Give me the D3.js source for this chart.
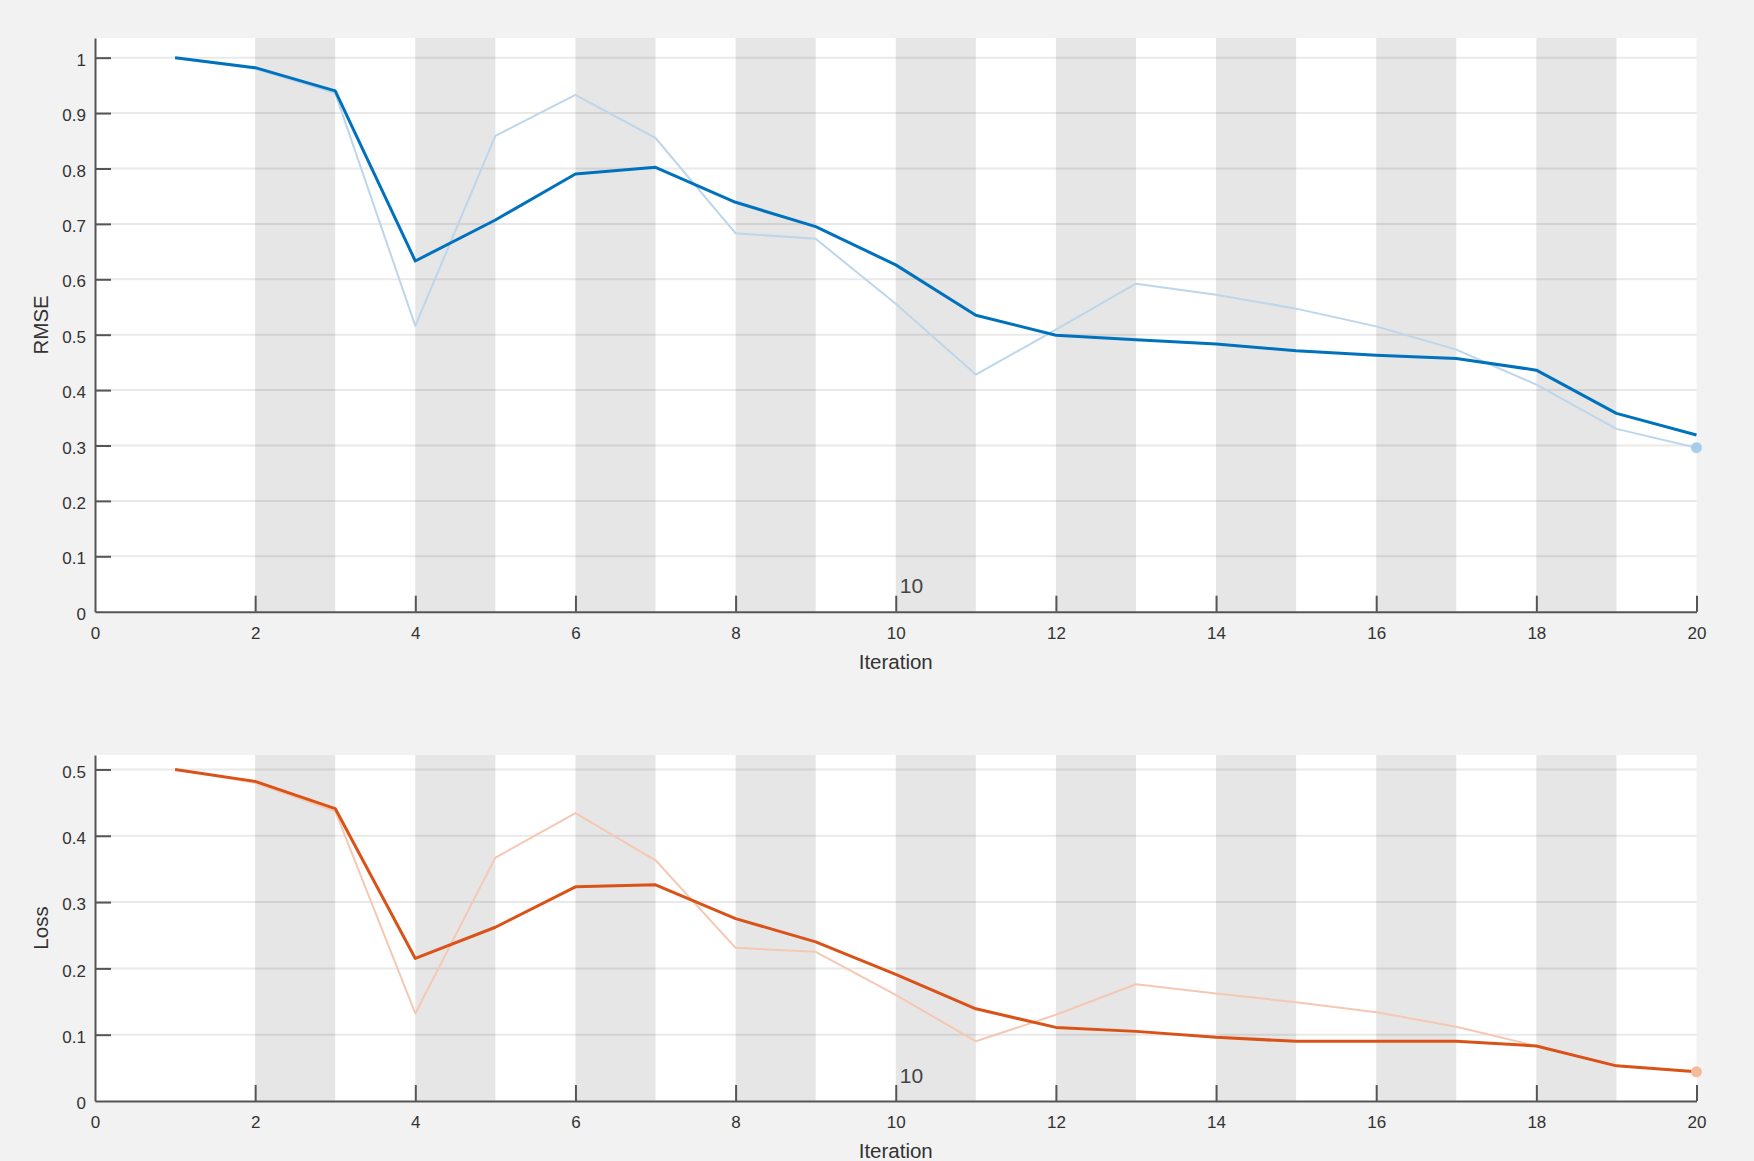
<!DOCTYPE html>
<html><head><meta charset="utf-8">
<script src="https://cdn.jsdelivr.net/npm/d3@7"></script>
<style>
html,body{margin:0;padding:0;background:#f2f2f2;}
svg{display:block;font-family:"Liberation Sans",Arial,Helvetica,sans-serif;}
</style></head>
<body>
<script>
// ---- data ----
const iterations = [1,2,3,4,5,6,7,8,9,10,11,12,13,14,15,16,17,18,19,20];
const rmseSmoothed = [1.0,0.982,0.940,0.633,0.707,0.790,0.802,0.739,0.695,0.626,0.535,0.499,0.491,0.483,0.471,0.463,0.457,0.436,0.358,0.319];
const rmseRaw      = [1.0,0.980,0.936,0.516,0.859,0.933,0.855,0.683,0.673,0.556,0.428,0.509,0.592,0.572,0.547,0.515,0.473,0.410,0.330,0.296];
const lossSmoothed = [0.500,0.482,0.441,0.215,0.262,0.323,0.326,0.275,0.240,0.191,0.139,0.111,0.105,0.096,0.090,0.090,0.090,0.083,0.053,0.044];
const lossRaw      = [0.500,0.480,0.437,0.132,0.367,0.434,0.363,0.231,0.225,0.160,0.090,0.130,0.176,0.162,0.149,0.134,0.112,0.083,0.053,0.044];
const epochBands = [[2,3],[4,5],[6,7],[8,9],[10,11],[12,13],[14,15],[16,17],[18,19]];
const xTicks = [0,2,4,6,8,10,12,14,16,18,20];
const rmseTicks = [0,0.1,0.2,0.3,0.4,0.5,0.6,0.7,0.8,0.9,1];
const lossTicks = [0,0.1,0.2,0.3,0.4,0.5];
const annotationLabel = "10";
const annotationX = 10;

const W = 1754, H = 1161;
const svg = d3.select("body").append("svg").attr("width", W).attr("height", H);
svg.append("rect").attr("width", W).attr("height", H).attr("fill", "#f2f2f2");

const textColor = "#333333";
const axisColor = "#555555";

function panel(opts){
  const {top, bottom, yMax, yTicks, yLabel, smooth, raw, dark, light, marker} = opts;
  const x = d3.scaleLinear().domain([0,20]).range([95,1696.5]);
  const y = d3.scaleLinear().domain([0,yMax]).range([bottom, top]);
  const g = svg.append("g");
  // plot area
  g.append("rect").attr("x", x(0)).attr("y", y(yMax)).attr("width", x(20)-x(0)).attr("height", y(0)-y(yMax)).attr("fill", "#ffffff");
  // epoch bands
  g.selectAll("rect.band").data(epochBands).join("rect").attr("class","band")
    .attr("x", d=>x(d[0])).attr("width", d=>x(d[1])-x(d[0]))
    .attr("y", y(yMax)).attr("height", y(0)-y(yMax)).attr("fill", "#e6e6e6");
  // grid
  g.selectAll("line.grid").data(yTicks.filter(t=>t>0)).join("line").attr("class","grid")
    .attr("x1", x(0)).attr("x2", x(20)).attr("y1", d=>y(d)).attr("y2", d=>y(d))
    .attr("stroke", "rgba(38,38,38,0.10)").attr("stroke-width", 2);
  // lines
  const line = d3.line().x((d,i)=>x(iterations[i])).y(d=>y(d));
  g.append("path").datum(raw).attr("d", line).attr("fill","none").attr("stroke", light).attr("stroke-width", 2).attr("stroke-linejoin","round");
  g.append("path").datum(smooth).attr("d", line).attr("fill","none").attr("stroke", dark).attr("stroke-width", 3).attr("stroke-linejoin","round");
  const li = iterations.length-1;
  g.append("circle").attr("cx", x(iterations[li])).attr("cy", y(raw[li])).attr("r", 5.5).attr("fill", marker);
  // axes
  const xAxis = d3.axisBottom(x).tickValues(xTicks).tickSize(-16).tickSizeOuter(0).tickPadding(15).tickFormat(d3.format("d"));
  const gx = g.append("g").attr("transform", `translate(0,${y(0)})`).call(xAxis);
  const yAxis = d3.axisLeft(y).tickValues(yTicks).tickSize(-16).tickSizeOuter(0).tickPadding(9).tickFormat(d=> d===0?"0":(d===1?"1":d3.format(".1f")(d)));
  const gy = g.append("g").attr("transform", `translate(${x(0)},0)`).call(yAxis);
  [gx,gy].forEach(a=>{
    a.attr("font-size", 17).attr("font-family","Liberation Sans, Arial, sans-serif");
    a.select(".domain").attr("stroke", axisColor).attr("stroke-width", 2);
    a.selectAll(".tick line").attr("stroke", axisColor).attr("stroke-width", 2);
    a.selectAll(".tick text").attr("fill", textColor).attr("font-size", 17);
  });
  gx.selectAll(".tick").filter(d=>d===0).select("line").remove();
  gy.selectAll(".tick").filter(d=>d===0).select("line").remove();
  gy.selectAll(".tick text").attr("dy", "0.45em");
  // labels
  g.append("text").attr("x", x(10)).attr("y", y(0)+57).attr("text-anchor","middle")
    .attr("font-size", 20.5).attr("fill", textColor).text("Iteration");
  g.append("text").attr("transform", `translate(48,${(y(0)+y(yMax))/2}) rotate(-90)`).attr("text-anchor","middle")
    .attr("font-size", 20.5).attr("fill", textColor).text(yLabel);
  g.append("text").attr("x", x(annotationX)+4).attr("y", y(0)-18.5)
    .attr("font-size", 21).attr("fill", "#444444").text(annotationLabel);
}

panel({top:38, bottom:611.7, yMax:1.0355, yTicks:rmseTicks, yLabel:"RMSE",
  smooth:rmseSmoothed, raw:rmseRaw, dark:"#0072BD", light:"#bdd6ea", marker:"#a8cdeb"});
panel({top:755, bottom:1101, yMax:0.5218, yTicks:lossTicks, yLabel:"Loss",
  smooth:lossSmoothed, raw:lossRaw, dark:"#D95319", light:"#f5c8b4", marker:"#f5b99c"});
</script>
</body></html>
